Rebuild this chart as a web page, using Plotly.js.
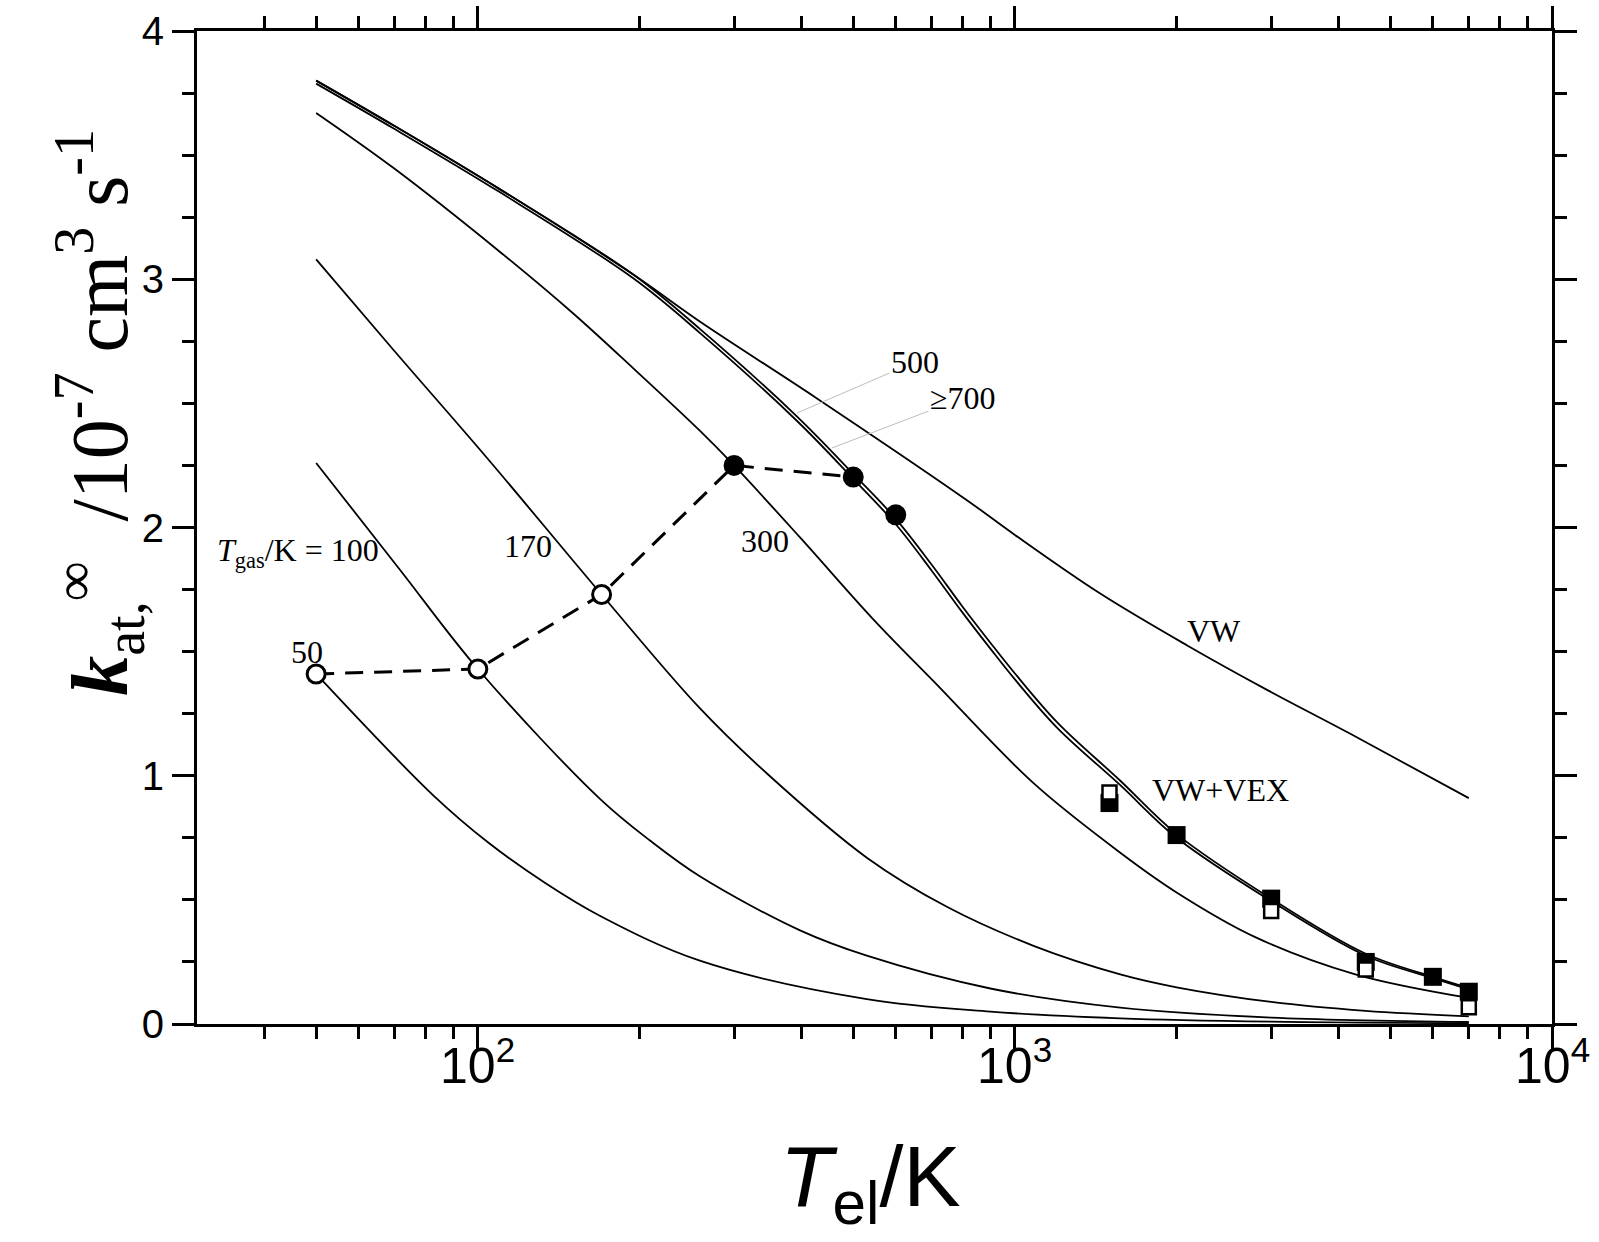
<!DOCTYPE html>
<html>
<head>
<meta charset="utf-8">
<script src="https://cdn.plot.ly/plotly-3.0.1.min.js"></script>
<style>
html,body{margin:0;padding:0;background:#fff;}
#chart{width:1599px;height:1242px;}
</style>
</head>
<body>
<div id="chart"></div>
<script>
// ---- data (T_el in K, k in 1e-7 cm^3 s^-1) ----
const T_gas50 = [50, 82.7, 104.7, 133.5, 169, 259, 530, 900, 1571, 3000, 7000];
const k_gas50 = [1.41, 0.92, 0.73, 0.568, 0.435, 0.255, 0.10, 0.05, 0.023, 0.0094, 0.003];

const T_gas100 = [50, 71.6, 100, 169, 209.5, 259, 398, 530, 900, 1571, 3000, 7000];
const k_gas100 = [2.26, 1.83, 1.43, 0.906, 0.738, 0.595, 0.377, 0.275, 0.143, 0.066, 0.026, 0.008];

const T_gas170 = [50, 70, 104.7, 170, 259, 345, 530, 750, 1083, 1571, 2000, 3000, 4500, 7000];
const k_gas170 = [3.08, 2.71, 2.273, 1.73, 1.272, 1.01, 0.67, 0.47, 0.315, 0.20, 0.148, 0.089, 0.053, 0.031];

const T_gas300 = [50, 70, 110, 150, 195, 259, 300, 398, 546, 706, 1083, 1571, 2000, 2802, 4303, 7000];
const k_gas300 = [3.67, 3.445, 3.11, 2.865, 2.64, 2.39, 2.25, 1.96, 1.628, 1.38, 0.97, 0.69, 0.53, 0.35, 0.20, 0.105];

const T_gas500 = [50, 70, 110, 195, 259, 393, 500, 600, 700, 797, 900, 1000, 1200, 1571, 2000, 3000, 4500, 6000, 7000];
const k_gas500 = [3.80, 3.617, 3.362, 3.018, 2.80, 2.447, 2.216, 2.035, 1.85, 1.684, 1.536, 1.412, 1.214, 0.98, 0.765, 0.505, 0.283, 0.19, 0.145];

const T_gas700 = [50, 70, 110, 195, 259, 393, 500, 600, 700, 797, 900, 1000, 1200, 1571, 2000, 3000, 4500, 6000, 7000];
const k_gas700 = [3.788, 3.605, 3.35, 3.003, 2.784, 2.429, 2.196, 2.013, 1.826, 1.66, 1.512, 1.388, 1.192, 0.962, 0.75, 0.495, 0.275, 0.185, 0.14];

const T_VW = [50, 70, 110, 195, 259, 428, 814, 1000, 1439, 2093, 2953, 4204, 7000];
const k_VW = [3.80, 3.617, 3.362, 3.018, 2.83, 2.52, 2.11, 1.97, 1.735, 1.525, 1.345, 1.17, 0.91];

const T_openCirc = [50, 100, 170];
const k_openCirc = [1.41, 1.43, 1.73];
const T_fillCirc = [300, 500, 600];
const k_fillCirc = [2.25, 2.203, 2.051];
const T_dashed = [50, 100, 170, 300, 500];
const k_dashed = [1.41, 1.43, 1.73, 2.25, 2.203];

const T_fillSq = [1500, 2000, 3000, 4500, 6000, 7000];
const k_fillSq = [0.89, 0.761, 0.505, 0.25, 0.19, 0.13];
const T_openSq = [1500, 3000, 4500, 7000];
const k_openSq = [0.933, 0.455, 0.22, 0.067];

const xMajorVals = [100, 1000, 10000];
const xMajorText = ['10<sup>2</sup>', '10<sup>3</sup>', '10<sup>4</sup>'];
const xMinorVals = [40, 50, 60, 70, 80, 90, 200, 300, 400, 500, 600, 700, 800, 900,
                    2000, 3000, 4000, 5000, 6000, 7000, 8000, 9000];

// label annotations: [text, T, k, xanchor]
const curveLabels = [
  ['<i>T</i><sub>gas</sub>/K = 100', 32.4, 1.90, 'left'],
  ['170', 124.1, 1.927, 'center'],
  ['50', 48.0, 1.50, 'center'],
  ['300', 342.8, 1.944, 'center'],
  ['VW', 2350, 1.584, 'center'],
  ['VW+VEX', 2412, 0.943, 'center']
];

// ---- traces ----
const curveLine = {color: '#000', width: 1.8, shape: 'spline', smoothing: 1.0};
function curve(x, y) {
  return {x: x, y: y, type: 'scatter', mode: 'lines', line: curveLine, hoverinfo: 'skip'};
}
const traces = [
  curve(T_gas50, k_gas50),
  curve(T_gas100, k_gas100),
  curve(T_gas170, k_gas170),
  curve(T_gas300, k_gas300),
  curve(T_gas500, k_gas500),
  curve(T_gas700, k_gas700),
  curve(T_VW, k_VW),
  {x: T_dashed, y: k_dashed, type: 'scatter', mode: 'lines',
   line: {color: '#000', width: 3, dash: '18px,11px'}},
  {x: T_openCirc, y: k_openCirc, type: 'scatter', mode: 'markers',
   marker: {symbol: 'circle', size: 18, color: '#fff', line: {color: '#000', width: 3}}},
  {x: T_fillCirc, y: k_fillCirc, type: 'scatter', mode: 'markers',
   marker: {symbol: 'circle', size: 21, color: '#000', line: {width: 0}}},
  {x: T_fillSq, y: k_fillSq, type: 'scatter', mode: 'markers',
   marker: {symbol: 'square', size: 18, color: '#000', line: {width: 0}}},
  {x: T_openSq, y: k_openSq, type: 'scatter', mode: 'markers',
   marker: {symbol: 'square', size: 14, color: '#fff', line: {color: '#000', width: 2.5}}}
];

const serif = 'Liberation Serif, Times New Roman, serif';
const sans = 'Liberation Sans, Arial, sans-serif';

const annotations = curveLabels.map(l => ({
  text: l[0], x: Math.log10(l[1]), y: l[2], xref: 'x', yref: 'y',
  xanchor: l[3], yanchor: 'middle', showarrow: false,
  font: {family: serif, size: 32, color: '#000'}
}));

annotations.push({
  text: '500', x: Math.log10(392.6), y: 2.461, xref: 'x', yref: 'y',
  showarrow: true, arrowhead: 0, arrowwidth: 1, arrowcolor: '#bdbdbd',
  ax: 118, ay: -51, standoff: 0,
  font: {family: serif, size: 32, color: '#000'}
});
annotations.push({
  text: '≥700', x: Math.log10(456), y: 2.32, xref: 'x', yref: 'y',
  showarrow: true, arrowhead: 0, arrowwidth: 1, arrowcolor: '#bdbdbd',
  ax: 131, ay: -50, standoff: 0,
  font: {family: serif, size: 32, color: '#000'}
});

// x tick labels (drawn as annotations so they can sit close to the ticks)
xMajorVals.forEach((v, i) => {
  annotations.push({
    text: xMajorText[i], x: Math.log10(v), xref: 'x', y: -0.004, yref: 'paper',
    xanchor: 'center', yanchor: 'top', showarrow: false,
    font: {family: sans, size: 50, color: '#000'}
  });
});

// axis titles
annotations.push({
  text: '<b><i>k</i></b><sub>at,</sub><sup>∞</sup>  /10<sup>-7</sup> cm<sup>3</sup> s<sup>-1</sup>',
  textangle: -90, xref: 'paper', yref: 'paper', x: -0.0723, y: 0.6156,
  xanchor: 'center', yanchor: 'middle', showarrow: false,
  font: {family: serif, size: 80, color: '#000'}
});
annotations.push({
  text: '<i>T</i><sub>el</sub>/K',
  xref: 'paper', yref: 'paper', x: 0.4968, y: -0.103,
  xanchor: 'center', yanchor: 'top', showarrow: false,
  font: {family: sans, size: 86, color: '#000'}
});

const layout = {
  width: 1599, height: 1242,
  margin: {l: 197, r: 47, t: 31, b: 218},
  paper_bgcolor: '#fff', plot_bgcolor: '#fff',
  showlegend: false,
  xaxis: {
    type: 'log', range: [Math.log10(30), 4], autorange: false,
    showline: true, linewidth: 3, linecolor: '#000', mirror: 'ticks',
    ticks: 'outside', ticklen: 22, tickwidth: 3, tickcolor: '#000',
    tickmode: 'array', tickvals: xMajorVals, ticktext: xMajorText,
    showticklabels: false,
    minor: {tickmode: 'array', tickvals: xMinorVals, ticks: 'outside', ticklen: 12, tickwidth: 3, tickcolor: '#000', showgrid: false},
    showgrid: false, zeroline: false
  },
  yaxis: {
    range: [0, 4], autorange: false,
    showline: true, linewidth: 3, linecolor: '#000', mirror: 'ticks',
    ticks: 'outside', ticklen: 22, tickwidth: 3, tickcolor: '#000',
    tickmode: 'linear', tick0: 0, dtick: 1,
    tickfont: {family: sans, size: 40, color: '#000'},
    minor: {dtick: 0.25, ticks: 'outside', ticklen: 12, tickwidth: 3, tickcolor: '#000', showgrid: false},
    showgrid: false, zeroline: false
  },
  annotations: annotations
};

Plotly.newPlot('chart', traces, layout, {displayModeBar: false, staticPlot: true});
</script>
</body>
</html>
